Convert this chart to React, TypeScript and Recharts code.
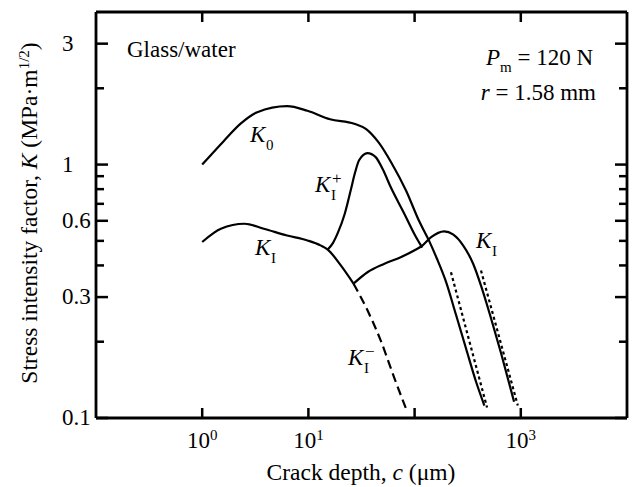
import { LineChart, Line, XAxis, YAxis } from 'recharts';

// Crack depth c (um) and stress intensity K (MPa m^1/2)
const k0C = [1, 1.6, 2.3, 3.3, 6.3, 9.8, 16, 27, 35, 46, 61, 83, 110, 137, 162, 197, 245, 305, 379, 454];
const k0K = [1.0, 1.24, 1.45, 1.61, 1.7, 1.63, 1.51, 1.45, 1.38, 1.22, 1.01, 0.79, 0.6, 0.5, 0.426, 0.346, 0.256, 0.188, 0.139, 0.112];

// K_I from c = 1 through the K_I+ branch point down to the K_I- branch point
const kiC = [1, 1.5, 2.5, 3.8, 6.3, 9.8, 13, 15.2, 20.2, 26.6];
const kiK = [0.495, 0.558, 0.584, 0.558, 0.525, 0.502, 0.48, 0.462, 0.4, 0.339];

// K_I+ loop
const kiPlusC = [15.2, 17, 19, 22, 25, 27.5, 30, 36, 43, 50, 60, 80, 100, 118];
const kiPlusK = [0.462, 0.49, 0.54, 0.64, 0.79, 0.93, 1.04, 1.11, 1.07, 0.96, 0.81, 0.64, 0.53, 0.47];

// K_I after the jump, up to the second maximum and down
const kiRightC = [26.6, 36, 52, 74, 99, 119, 143, 190, 230, 286, 355, 422, 525, 652, 864];
const kiRightK = [0.339, 0.376, 0.406, 0.431, 0.458, 0.48, 0.517, 0.545, 0.53, 0.48, 0.407, 0.333, 0.247, 0.18, 0.116];

// K_I- (dashed)
const kiMinusC = [26.6, 36, 48, 64, 85];
const kiMinusK = [0.339, 0.266, 0.202, 0.145, 0.106];

// asymptotes (dotted)
const asym1C = [220, 481];
const asym1K = [0.376, 0.11];
const asym2C = [422, 937];
const asym2K = [0.382, 0.112];

const X_TICKS = [1, 10, 100, 1000];
const X_TICK_EXP = ['0', '1', '', '3'];
const Y_TICKS = [0.1, 0.2, 0.3, 0.4, 0.5, 0.6, 0.7, 0.8, 0.9, 1, 2, 3];
const Y_TICK_LABELS = ['0.1', '', '0.3', '', '', '0.6', '', '', '', '1', '', '3'];

const FONT = "'Liberation Serif', 'Times New Roman', serif";
const FS = 23;
const AXIS_W = 2.8;

const pts = (c: number[], k: number[]) => c.map((v, i) => ({ c: v, k: k[i] }));

const BottomTick = (props: any) => {
  const { x, y, payload } = props;
  const exp = X_TICK_EXP[X_TICKS.indexOf(payload.value)];
  return (
    <g>
      <line x1={x} y1={y} x2={x} y2={y - 10} stroke="#000" strokeWidth={2.5} />
      {exp && (
        <text x={x} y={y + 30} textAnchor="middle" fontFamily={FONT} fontSize={FS} fill="#000">
          10<tspan dy={-8} fontSize={15}>{exp}</tspan>
        </text>
      )}
    </g>
  );
};

const TopTick = (props: any) => {
  const { x, y } = props;
  return <line x1={x} y1={y} x2={x} y2={y + 10} stroke="#000" strokeWidth={2.5} />;
};

const LeftTick = (props: any) => {
  const { x, y, payload } = props;
  const label = Y_TICK_LABELS[Y_TICKS.indexOf(payload.value)];
  return (
    <g>
      <line x1={x} y1={y} x2={x + (label ? 12 : 8)} y2={y} stroke="#000" strokeWidth={2.5} />
      {label && (
        <text x={x - 34} y={y + 7} textAnchor="start" fontFamily={FONT} fontSize={FS} fill="#000">
          {label}
        </text>
      )}
    </g>
  );
};

const RightTick = (props: any) => {
  const { x, y, payload } = props;
  const label = Y_TICK_LABELS[Y_TICKS.indexOf(payload.value)];
  return <line x1={x} y1={y} x2={x - (label ? 12 : 8)} y2={y} stroke="#000" strokeWidth={2.5} />;
};

const KLabel = ({ x, y, sub, sup }: { x: number; y: number; sub: string; sup?: string }) => (
  <g fontFamily={FONT} fill="#000">
    <text x={x} y={y} fontSize={FS} fontStyle="italic">K</text>
    <text x={x + 16} y={y + 8} fontSize={15}>{sub}</text>
    {sup && <text x={x + 17} y={y - 8} fontSize={17}>{sup}</text>}
  </g>
);

export default function App() {
  const lineProps = {
    dataKey: 'k',
    type: 'monotone' as const,
    stroke: '#000',
    strokeWidth: 2.2,
    dot: false,
    activeDot: false,
    isAnimationActive: false,
  };

  return (
    <div style={{ position: 'absolute', left: 0, top: 0, background: '#fff' }}>
      <LineChart width={634} height={487} margin={{ top: 11, right: 6, bottom: 0, left: 0 }}>
        <XAxis
          type="number"
          dataKey="c"
          scale="log"
          domain={[0.1, 10000]}
          allowDataOverflow
          ticks={X_TICKS}
          interval={0}
          height={69}
          tickSize={0}
          tickMargin={0}
          tickLine={false}
          axisLine={{ stroke: '#000', strokeWidth: AXIS_W }}
          tick={<BottomTick />}
        />
        <XAxis
          xAxisId="top"
          orientation="top"
          type="number"
          dataKey="c"
          scale="log"
          domain={[0.1, 10000]}
          allowDataOverflow
          ticks={X_TICKS}
          interval={0}
          height={1}
          tickSize={0}
          tickMargin={0}
          tickLine={false}
          axisLine={{ stroke: '#000', strokeWidth: AXIS_W }}
          tick={<TopTick />}
        />
        <YAxis
          type="number"
          scale="log"
          domain={[0.1, 4]}
          allowDataOverflow
          ticks={Y_TICKS}
          interval={0}
          width={96}
          tickSize={0}
          tickMargin={0}
          tickLine={false}
          axisLine={{ stroke: '#000', strokeWidth: AXIS_W }}
          tick={<LeftTick />}
        />
        <YAxis
          yAxisId="right"
          orientation="right"
          type="number"
          scale="log"
          domain={[0.1, 4]}
          allowDataOverflow
          ticks={Y_TICKS}
          interval={0}
          width={1}
          tickSize={0}
          tickMargin={0}
          tickLine={false}
          axisLine={{ stroke: '#000', strokeWidth: AXIS_W }}
          tick={<RightTick />}
        />

        <Line {...lineProps} data={pts(k0C, k0K)} />
        <Line {...lineProps} data={pts(kiC, kiK)} />
        <Line {...lineProps} data={pts(kiPlusC, kiPlusK)} />
        <Line {...lineProps} data={pts(kiRightC, kiRightK)} />
        <Line {...lineProps} data={pts(kiMinusC, kiMinusK)} strokeDasharray="9 5" />
        <Line {...lineProps} type="linear" data={pts(asym1C, asym1K)} strokeDasharray="3 3" />
        {/* same scales as the main axes; attached to the frame axes so they get drawn */}
        <Line
          {...lineProps}
          type="linear"
          xAxisId="top"
          yAxisId="right"
          data={pts(asym2C, asym2K)}
          strokeDasharray="3 3"
        />

        <text x={127} y={57} fontFamily={FONT} fontSize={FS} fill="#000">Glass/water</text>
        <text x={593} y={65} textAnchor="end" fontFamily={FONT} fontSize={FS} fill="#000">
          <tspan fontStyle="italic">P</tspan>
          <tspan dy={7} fontSize={15}>m</tspan>
          <tspan dy={-7}> = 120 N</tspan>
        </text>
        <text x={596} y={100} textAnchor="end" fontFamily={FONT} fontSize={FS} fill="#000">
          <tspan fontStyle="italic">r</tspan> = 1.58 mm
        </text>

        <KLabel x={250} y={142} sub="0" />
        <KLabel x={315} y={192} sub="I" sup="+" />
        <KLabel x={255} y={255} sub="I" />
        <KLabel x={476} y={248} sub="I" />
        <KLabel x={348} y={365} sub="I" sup="−" />

        <text
          x={37}
          y={213}
          transform="rotate(-90 37 213)"
          textAnchor="middle"
          fontFamily={FONT}
          fontSize={23.5}
          fill="#000"
        >
          Stress intensity factor, <tspan fontStyle="italic">K</tspan> (MPa·m
          <tspan dy={-8} fontSize={15}>1/2</tspan>
          <tspan dy={8}>)</tspan>
        </text>
        <text x={361} y={480} textAnchor="middle" fontFamily={FONT} fontSize={23.5} fill="#000">
          Crack depth, <tspan fontStyle="italic">c</tspan> (μm)
        </text>
      </LineChart>
    </div>
  );
}
